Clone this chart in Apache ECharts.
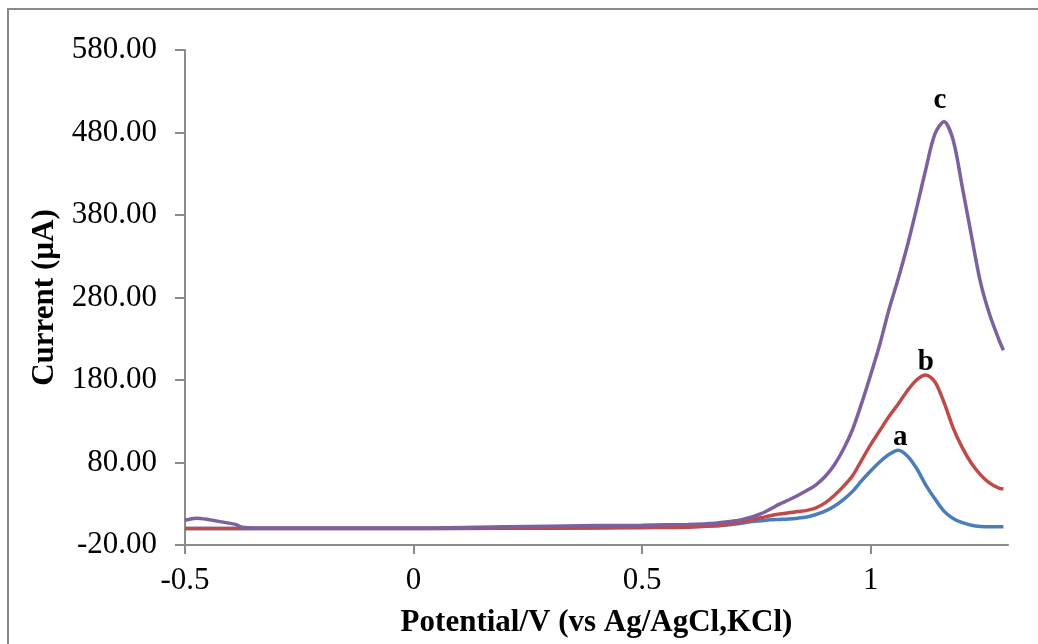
<!DOCTYPE html>
<html>
<head>
<meta charset="utf-8">
<script src="https://cdn.jsdelivr.net/npm/echarts@6/dist/echarts.min.js"></script>
<style>
html,body{margin:0;padding:0;background:#fff;}
#chart{width:1038px;height:644px;}
</style>
</head>
<body>
<div id="chart"></div>
<script>
// Potential (V vs Ag/AgCl,KCl)
const potential = [-0.5, -0.475, -0.45, -0.42, -0.39, -0.375, -0.35, -0.2, 0, 0.2, 0.4, 0.5, 0.6, 0.66, 0.70, 0.72, 0.74, 0.76, 0.78, 0.80, 0.82, 0.84, 0.86, 0.88, 0.90, 0.92, 0.94, 0.96, 0.98, 1.00, 1.02, 1.04, 1.06, 1.08, 1.10, 1.12, 1.14, 1.16, 1.18, 1.20, 1.22, 1.24, 1.26, 1.28, 1.29];
// Current (µA)
const currentA = [0, 0, 0, 0, 0, 0, 0, 0, 0, 0.5, 1, 1.5, 2, 3.2, 5, 6.5, 8.5, 9.5, 10.5, 11, 11.5, 12.5, 14, 17, 21, 27, 35, 45, 58, 70, 81, 90, 95, 88, 73, 53, 36, 21, 12, 7, 4, 2.5, 2, 2, 2];
const currentB = [0, 0, 0, 0, 0, 0, 0, 0, 0, 0.3, 0.6, 1, 1.5, 3.2, 6, 8, 10.5, 13, 15.5, 17.5, 19, 20.5, 22, 25, 31, 40, 51, 64, 83, 102, 119, 136, 151, 167, 180, 186, 178, 153, 122, 98, 79, 65, 55, 49, 48];
const currentC = [10, 12.5, 11, 8, 5, 1.5, 0.5, 0.5, 0.5, 2, 3.5, 4, 5, 6.5, 9, 11, 14, 18, 23.5, 29.5, 34.5, 40, 46, 53, 63, 77, 96, 120, 152, 187, 224, 266, 303, 343, 388, 435, 478, 493, 471, 414, 355, 298, 259, 229, 216];
const seriesNames = ['a', 'b', 'c'];
const seriesColors = ['#4a7ebb', '#be4b48', '#7d60a0'];
const xTicks = [-0.5, 0, 0.5, 1];
const yTicks = [-20, 80, 180, 280, 380, 480, 580];

const labelOffsets = {a: [2, 4], b: [0, 4], c: [-4, -4]};

function build(name, values, color) {
  let maxIdx = 0;
  values.forEach((v, i) => { if (v > values[maxIdx]) maxIdx = i; });
  const data = potential.map((p, i) => [p, values[i]]);
  return {
    name: name, type: 'line', data: data, smooth: 0.3, showSymbol: false, symbol: 'none',
    lineStyle: {color: color, width: 3.5}, itemStyle: {color: color}, z: 3,
    markPoint: {
      symbol: 'circle', symbolSize: 1, itemStyle: {color: 'rgba(0,0,0,0)'}, silent: true,
      data: [{coord: [potential[maxIdx], values[maxIdx]], value: name}],
      label: {
        show: true, position: 'top', formatter: name, distance: 2,
        offset: labelOffsets[name],
        fontFamily: 'Liberation Serif', fontWeight: 'bold', fontSize: 29, color: '#000'
      }
    }
  };
}

const chart = echarts.init(document.getElementById('chart'));
chart.setOption({
  animation: false,
  backgroundColor: '#fff',
  graphic: [{
    type: 'rect', shape: {x: 8, y: 9, width: 1200, height: 800},
    style: {fill: 'none', stroke: '#8a8a8a', lineWidth: 2}, silent: true, z: -1
  }],
  grid: {left: 185, right: 30, top: 50, bottom: 99},
  xAxis: {
    type: 'value', min: -0.5, max: 1.3,
    name: 'Potential/V (vs Ag/AgCl,KCl)', nameLocation: 'middle', nameGap: 62,
    nameTextStyle: {fontFamily: 'Liberation Serif', fontWeight: 'bold', fontSize: 31, color: '#000'},
    axisLine: {show: true, onZero: false, lineStyle: {color: '#8a8a8a', width: 2}},
    axisTick: {show: true, inside: false, length: 9, customValues: xTicks, lineStyle: {color: '#8a8a8a', width: 2}},
    axisLabel: {customValues: xTicks, margin: 20, fontFamily: 'Liberation Serif', fontSize: 31, color: '#000',
      formatter: v => String(v)},
    splitLine: {show: false}
  },
  yAxis: {
    type: 'value', min: -20, max: 580,
    name: 'Current (µA)', nameLocation: 'middle', nameGap: 120, nameRotate: 90,
    nameTextStyle: {fontFamily: 'Liberation Serif', fontWeight: 'bold', fontSize: 31, color: '#000'},
    axisLine: {show: true, onZero: false, lineStyle: {color: '#8a8a8a', width: 2}},
    axisTick: {show: true, inside: false, length: 10, customValues: yTicks, lineStyle: {color: '#8a8a8a', width: 2}},
    axisLabel: {customValues: yTicks, margin: 28, fontFamily: 'Liberation Serif', fontSize: 31, color: '#000',
      formatter: v => v.toFixed(2)},
    splitLine: {show: false}
  },
  series: [
    build(seriesNames[0], currentA, seriesColors[0]),
    build(seriesNames[1], currentB, seriesColors[1]),
    build(seriesNames[2], currentC, seriesColors[2])
  ]
});
</script>
</body>
</html>
